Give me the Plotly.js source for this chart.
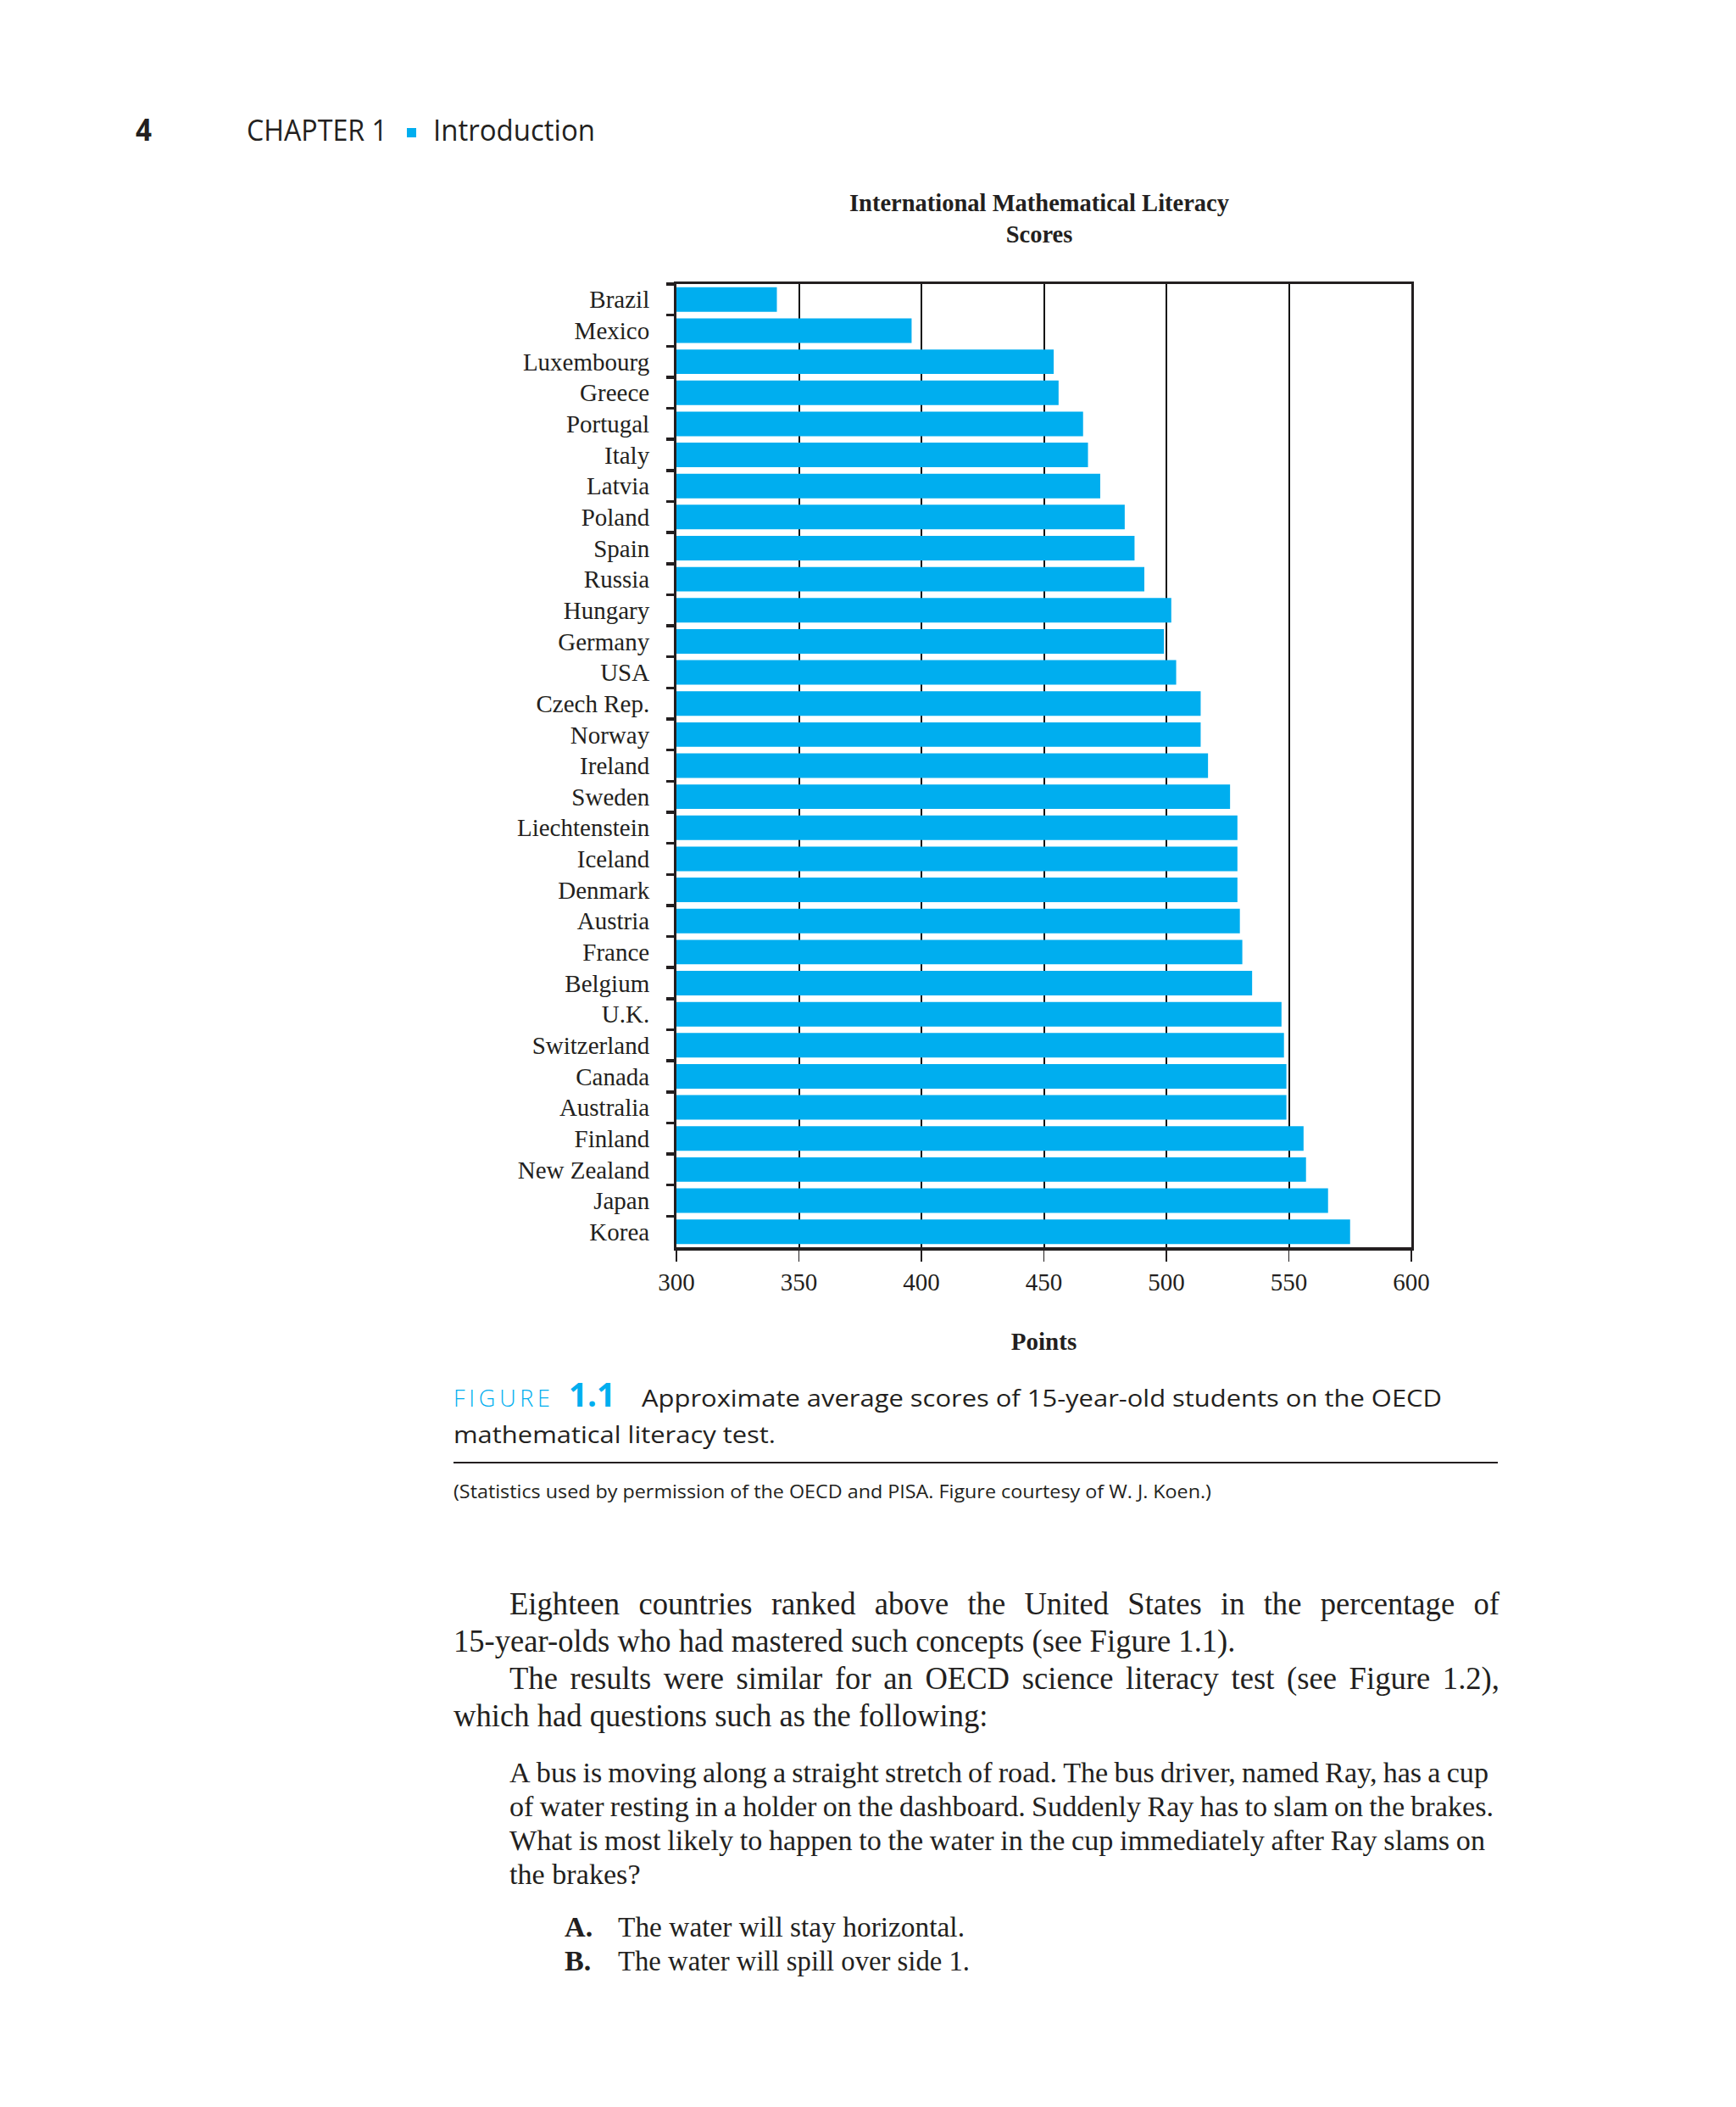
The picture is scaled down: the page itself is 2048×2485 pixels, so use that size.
<!DOCTYPE html>
<html>
<head>
<meta charset="utf-8">
<script src="https://cdn.plot.ly/plotly-3.0.1.min.js"></script>
<style>
  html, body { margin: 0; padding: 0; background: #fff; }
  #wrap { position: relative; width: 2048px; height: 2485px; overflow: hidden; background: #fff; }
  #chart { position: absolute; left: 0; top: 0; width: 2048px; height: 1620px; }
  #page { position: absolute; left: 0; top: 0; width: 2048px; height: 2485px; pointer-events: none; }
</style>
</head>
<body>
<div id="wrap">
  <div id="chart"></div>
  <svg id="page" xmlns="http://www.w3.org/2000/svg" width="2048" height="2485"></svg>
</div>
<script>
// ---------------- DATA ----------------
const countries = ["Brazil", "Mexico", "Luxembourg", "Greece", "Portugal", "Italy", "Latvia", "Poland",
  "Spain", "Russia", "Hungary", "Germany", "USA", "Czech Rep.", "Norway", "Ireland", "Sweden",
  "Liechtenstein", "Iceland", "Denmark", "Austria", "France", "Belgium", "U.K.", "Switzerland",
  "Canada", "Australia", "Finland", "New Zealand", "Japan", "Korea"];
const scores = [341, 396, 454, 456, 466, 468, 473, 483,
  487, 491, 502, 499, 504, 514, 514, 517, 526,
  529, 529, 529, 530, 531, 535, 547, 548,
  549, 549, 556, 557, 566, 575];
const xTickValues = [300, 350, 400, 450, 500, 550, 600];
const xTickLabels = ["300", "350", "400", "450", "500", "550", "600"];
const chartTitle = "International Mathematical Literacy<br>Scores";
const xAxisTitle = "Points";

// ---------------- PAGE TEXT ----------------
const pageNumber = "4";
const chapterText = "CHAPTER 1";
const chapterName = "Introduction";
const figureWord = "FIGURE";
const figureNumber = "1.1";
const captionLine1 = "Approximate average scores of 15-year-old students on the OECD";
const captionLine2 = "mathematical literacy test.";
const creditText = "(Statistics used by permission of the OECD and PISA. Figure courtesy of W. J. Koen.)";
const bodyLines = [
  "Eighteen countries ranked above the United States in the percentage of",
  "15-year-olds who had mastered such concepts (see Figure 1.1).",
  "The results were similar for an OECD science literacy test (see Figure 1.2),",
  "which had questions such as the following:"
];
const quoteLines = [
  "A bus is moving along a straight stretch of road. The bus driver, named Ray, has a cup",
  "of water resting in a holder on the dashboard. Suddenly Ray has to slam on the brakes.",
  "What is most likely to happen to the water in the cup immediately after Ray slams on",
  "the brakes?"
];
const optionLetters = ["A.", "B."];
const optionTexts = ["The water will stay horizontal.", "The water will spill over side 1."];

// ---------------- CHART ----------------
const INK = "#231f20";
const CYAN = "#00aeef";
const SERIF = "Liberation Serif, Times New Roman, serif";

const trace = {
  type: "bar",
  orientation: "h",
  y: countries,
  x: scores,
  marker: { color: CYAN, line: { width: 0 } },
  hoverinfo: "skip"
};

const layout = {
  width: 2048,
  height: 1620,
  margin: { l: 798, r: 383, t: 335, b: 149, pad: 0 },
  paper_bgcolor: "rgba(0,0,0,0)",
  plot_bgcolor: "#ffffff",
  font: { family: SERIF, color: INK, size: 29 },
  showlegend: false,
  bargap: 0.21,
  title: {
    text: chartTitle,
    font: { family: SERIF, size: 28.5, color: INK, weight: "bold" },
    xref: "container", x: 1226 / 2048, xanchor: "center",
    yref: "container", y: 1 - 249 / 1620, yanchor: "top"
  },
  xaxis: {
    range: [300, 600],
    tickmode: "array",
    tickvals: xTickValues,
    ticktext: xTickLabels,
    ticks: "outside", ticklen: 13, tickwidth: 1.8, tickcolor: INK,
    showgrid: true, gridcolor: "#111", gridwidth: 2,
    showline: true, linewidth: 3.5, linecolor: INK, mirror: true,
    zeroline: false,
    tickfont: { family: SERIF, size: 29, color: INK },
    title: { text: xAxisTitle, font: { family: SERIF, size: 29, color: INK, weight: "bold" }, standoff: 45 },
    automargin: false,
    fixedrange: true
  },
  yaxis: {
    type: "category",
    autorange: "reversed",
    tickson: "boundaries",
    ticks: "outside", ticklen: 9, tickwidth: 3.5, tickcolor: INK,
    showgrid: false,
    showline: true, linewidth: 3, linecolor: INK, mirror: true,
    zeroline: false,
    tickfont: { family: SERIF, size: 29, color: INK },
    ticklabelstandoff: 23,
    automargin: false,
    fixedrange: true
  }
};

Plotly.newPlot("chart", [trace], layout, { displayModeBar: false, staticPlot: true });

// ---------------- PAGE OVERLAY (SVG text) ----------------
const NS = "http://www.w3.org/2000/svg";
const svg = document.getElementById("page");
function mk(tag, attrs, parent) {
  const e = document.createElementNS(NS, tag);
  for (const k in attrs) e.setAttribute(k, attrs[k]);
  (parent || svg).appendChild(e);
  return e;
}
function measure(text, style) {
  const t = mk("text", { x: 0, y: -200, style: style });
  t.textContent = text;
  const w = t.getComputedTextLength();
  t.remove();
  return w;
}
function fitLine(text, x, y, w, style, adjust) {
  const t = mk("text", { x: x, y: y, style: style });
  t.textContent = text;
  if (w) { t.setAttribute("textLength", w); t.setAttribute("lengthAdjust", adjust || "spacingAndGlyphs"); }
  return t;
}
function scaledLine(text, x, y, s, style, w) {
  const g = mk("g", { transform: "translate(" + x + "," + y + ") scale(" + s + ",1)" });
  const t = mk("text", { x: 0, y: 0, style: style }, g);
  if (!w) { t.textContent = text; return; }
  const words = text.split(" ");
  const ws = words.map(wd => measure(wd, style));
  const total = ws.reduce((a, b) => a + b, 0);
  const gap = (w / s - total) / (words.length - 1);
  let cx = 0;
  words.forEach((wd, i) => {
    const sp = mk("tspan", { x: cx }, t);
    sp.textContent = wd;
    cx += ws[i] + gap;
  });
}

const SANS = "font-family:'Open Sans','Noto Sans',sans-serif;";
const SERIFCSS = "font-family:'Liberation Serif','Times New Roman',serif;";

// header
fitLine(pageNumber, 160, 165.5, 19, SANS + "font-size:36px;font-weight:700;fill:" + INK);
fitLine(chapterText, 291, 165.5, 166, SANS + "font-size:35px;font-weight:400;fill:" + INK);
mk("rect", { x: 480, y: 151, width: 11, height: 11, fill: CYAN });
fitLine(chapterName, 511, 165.5, 191, SANS + "font-size:35px;font-weight:400;fill:" + INK);

// caption
fitLine(figureWord, 535, 1659, 117, SANS + "font-size:27px;font-weight:300;letter-spacing:3px;fill:" + CYAN, "spacing");
fitLine(figureNumber, 671, 1659, 55, SANS + "font-size:40px;font-weight:700;fill:" + CYAN);
fitLine(captionLine1, 757, 1659, 944, SANS + "font-size:28px;font-weight:400;fill:" + INK);
fitLine(captionLine2, 535, 1702, 380, SANS + "font-size:28px;font-weight:400;fill:" + INK);
mk("line", { x1: 535, y1: 1725, x2: 1767, y2: 1725, stroke: INK, "stroke-width": 2 });
fitLine(creditText, 535, 1767, 894, SANS + "font-size:21px;font-weight:400;fill:" + INK);

// body paragraph
const bodyStyle = SERIFCSS + "font-size:37px;fill:" + INK;
const sBody = 923 / measure(bodyLines[1], bodyStyle);
scaledLine(bodyLines[0], 601, 1904, sBody, bodyStyle, 1168);
scaledLine(bodyLines[1], 535, 1948, sBody, bodyStyle, null);
scaledLine(bodyLines[2], 601, 1992, sBody, bodyStyle, 1168);
scaledLine(bodyLines[3], 535, 2036, sBody, bodyStyle, null);

// quote
const quoteStyle = SERIFCSS + "font-size:34.5px;fill:" + INK;
scaledLine(quoteLines[0], 601, 2102, sBody, quoteStyle, 1155);
scaledLine(quoteLines[1], 601, 2142, sBody, quoteStyle, 1161);
scaledLine(quoteLines[2], 601, 2182, sBody, quoteStyle, 1151);
scaledLine(quoteLines[3], 601, 2222, sBody, quoteStyle, null);

// options
const optBold = SERIFCSS + "font-size:34.5px;font-weight:700;fill:" + INK;
scaledLine(optionLetters[0], 666, 2284, sBody, optBold, null);
scaledLine(optionLetters[1], 666, 2324, sBody, optBold, null);
fitLine(optionTexts[0], 729, 2284, 409, quoteStyle);
fitLine(optionTexts[1], 729, 2324, 415, quoteStyle);
</script>
</body>
</html>
